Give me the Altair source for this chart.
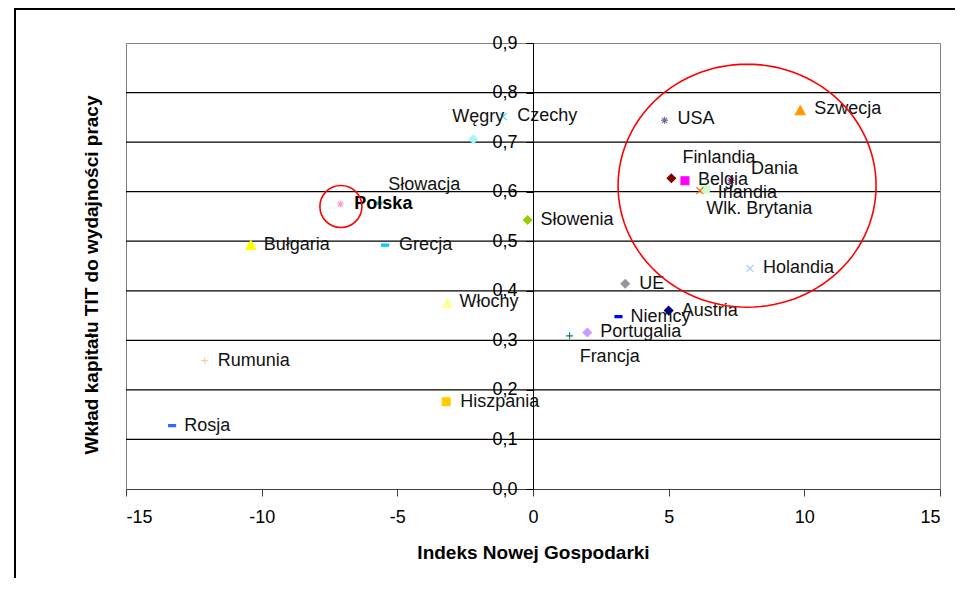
import math
import altair as alt
import pandas as pd

# ---------------- data ----------------
countries = ["Polska", "Słowacja", "Węgry", "Czechy", "Słowenia", "Bułgaria",
             "Grecja", "Włochy", "Rumunia", "Rosja", "Hiszpania", "UE",
             "Niemcy", "Austria", "Portugalia", "Francja", "USA", "Szwecja",
             "Finlandia", "Belgia", "Dania", "Irlandia", "Wlk. Brytania", "Holandia"]
nge_index = [-7.1, -5.7, -2.2, -1.1, -0.2, -10.4,
             -5.45, -3.15, -12.1, -13.3, -3.2, 3.4,
             3.15, 5.0, 2.0, 1.35, 4.85, 9.85,
             5.1, 5.6, 7.3, 6.15, 6.35, 8.0]
ict_share = [0.575, 0.577, 0.706, 0.752, 0.543, 0.492,
             0.492, 0.375, 0.259, 0.128, 0.176, 0.414,
             0.348, 0.360, 0.316, 0.309, 0.744, 0.764,
             0.627, 0.622, 0.623, 0.602, 0.605, 0.445]

x_ticks = [-15, -10, -5, 0, 5, 10, 15]
y_ticks = [0.0, 0.1, 0.2, 0.3, 0.4, 0.5, 0.6, 0.7, 0.8, 0.9]
grid_levels = [0.1, 0.2, 0.3, 0.4, 0.5, 0.6, 0.7, 0.8]

# highlighted groups (annotation circles): centre in data units
highlight_x = [-7.08, 7.89]
highlight_y = [0.570, 0.612]
highlight_id = ["pl", "core"]

# ---------------- styles ----------------
SHAPES = {
    "diamond": "M0,-0.85L0.85,0L0,0.85L-0.85,0Z",
    "square": "M-0.8,-0.8L0.8,-0.8L0.8,0.8L-0.8,0.8Z",
    "triangle": "M0,-0.95L1.0,0.85L-1.0,0.85Z",
    "asterisk": "M-0.7,0L0.7,0M0,-0.7L0,0.7M-0.5,-0.5L0.5,0.5M-0.5,0.5L0.5,-0.5",
    "x": "M-0.7,-0.7L0.7,0.7M-0.7,0.7L0.7,-0.7",
    "plus": "M-0.7,0L0.7,0M0,-0.7L0,0.7",
    "dash": "M-0.7,-0.22L0.7,-0.22L0.7,0.22L-0.7,0.22Z",
}
marker_style = {
    "Polska": ("asterisk", "#FF99CC"),
    "Słowacja": ("dash", "#33CCCC"),
    "Węgry": ("diamond", "#A8F4FA"),
    "Czechy": ("x", "#33E0F0"),
    "Słowenia": ("diamond", "#99CC00"),
    "Bułgaria": ("triangle", "#FFFF00"),
    "Grecja": ("dash", "#00CCFF"),
    "Włochy": ("triangle", "#FFFF99"),
    "Rumunia": ("plus", "#FFCC99"),
    "Rosja": ("dash", "#3366FF"),
    "Hiszpania": ("square", "#FFCC00"),
    "UE": ("diamond", "#969696"),
    "Niemcy": ("dash", "#0000FF"),
    "Austria": ("diamond", "#000080"),
    "Portugalia": ("diamond", "#CC99FF"),
    "Francja": ("plus", "#008080"),
    "USA": ("asterisk", "#666699"),
    "Szwecja": ("triangle", "#FF9900"),
    "Finlandia": ("diamond", "#800000"),
    "Belgia": ("square", "#FF00FF"),
    "Dania": ("asterisk", "#800080"),
    "Irlandia": ("x", "#FF6600"),
    "Wlk. Brytania": ("square", "#CCFFCC"),
    "Holandia": ("x", "#99CCFF"),
}
# label offsets in pixels (left edge of text, vertical centre)
label_offset = {
    "Polska": (14, 0), "Słowacja": (10, -18), "Węgry": (-21, -22),
    "Czechy": (14, 0), "Słowenia": (13, 0), "Bułgaria": (13, 0),
    "Grecja": (14, 0), "Włochy": (12, -1), "Rumunia": (13, 0),
    "Rosja": (12, 0), "Hiszpania": (14, 0), "UE": (14, 0),
    "Niemcy": (12, 0), "Austria": (13, 0), "Portugalia": (13, 0),
    "Francja": (10, 21), "USA": (13, -1), "Szwecja": (14, -1),
    "Finlandia": (11, -20), "Belgia": (13, -1), "Dania": (20, -11),
    "Irlandia": (18, 2), "Wlk. Brytania": (1, 20), "Holandia": (13, 0),
}

FONT = "Liberation Sans"
W, H = 814, 446
XMIN, XMAX = x_ticks[0], x_ticks[-1]
YMIN, YMAX = y_ticks[0], y_ticks[-1]

df = pd.DataFrame({"country": countries, "x": nge_index, "y": ict_share})
df["dx"] = [label_offset[c][0] for c in countries]
df["dy"] = [label_offset[c][1] for c in countries]
df["shape"] = [marker_style[c][0] for c in countries]

grid_df = pd.DataFrame({"y": grid_levels, "x": [XMIN] * len(grid_levels),
                        "x2": [XMAX] * len(grid_levels)})
hl_df = pd.DataFrame({"id": highlight_id, "x": highlight_x, "y": highlight_y})
one = pd.DataFrame({"k": [0]})

xscale = alt.Scale(domain=[XMIN, XMAX], nice=False, zero=False)
yscale = alt.Scale(domain=[YMIN, YMAX], nice=False, zero=False)

xaxis = alt.Axis(values=x_ticks, title="Indeks Nowej Gospodarki", grid=False,
                 labelExpr="'' + datum.value", labelFont=FONT, labelFontSize=18,
                 labelColor="#000", labelPadding=12, tickSize=7, tickColor="#404040",
                 domainColor="#404040", titleFont=FONT, titleFontSize=19,
                 titleFontWeight="bold", titleColor="#000", titlePadding=17, zindex=0)
yaxis = alt.Axis(values=y_ticks, title=None, grid=False, offset=-W / 2,
                 labelExpr="replace(format(datum.value, '.1f'), '.', ',')",
                 labelFont=FONT, labelFontSize=18, labelColor="#000", labelPadding=9,
                 tickSize=7, tickColor="#000", domainColor="#000", zindex=0)

X = alt.X("x:Q", scale=xscale, axis=xaxis)
Y = alt.Y("y:Q", scale=yscale, axis=yaxis)
LX = alt.X("lx:Q", scale=xscale, axis=xaxis)
LY = alt.Y("ly:Q", scale=yscale, axis=yaxis)

frame = alt.Chart(one).mark_rect(fill=None, stroke="#000", strokeWidth=2).encode(
    x=alt.value(-111), x2=alt.value(1200), y=alt.value(-34), y2=alt.value(1000))

grid = alt.Chart(grid_df).mark_rule(color="#000", strokeWidth=1.2).encode(
    x=X, x2="x2:Q", y=Y)

point_layers = []
for kind, path in SHAPES.items():
    sub = df[df["shape"] == kind]
    if sub.empty:
        continue
    point_layers.append(
        alt.Chart(sub).mark_point(filled=True, strokeWidth=1.1, opacity=1, shape=path,
                                  size=100).encode(
            x=X, y=Y,
            color=alt.Color("country:N", scale=None, legend=None)
            if False else alt.Color("country:N", legend=None, scale=alt.Scale(
                domain=countries, range=[marker_style[c][1] for c in countries])),
            stroke=alt.Stroke("country:N", legend=None, scale=alt.Scale(
                domain=countries, range=[marker_style[c][1] for c in countries])),
        )
    )

pos_calc = dict(
    lx=f"datum.x + datum.dx * {(XMAX - XMIN) / W}",
    ly=f"datum.y - datum.dy * {(YMAX - YMIN) / H}",
)

labels = alt.Chart(df).transform_filter("datum.country != 'Polska'").transform_calculate(
    **pos_calc).mark_text(align="left", baseline="middle", font=FONT, fontSize=18,
                          color="#111").encode(x=LX, y=LY, text="country:N")

label_pl = alt.Chart(df).transform_filter("datum.country == 'Polska'").transform_calculate(
    **pos_calc).mark_text(align="left", baseline="middle", font=FONT, fontSize=18,
                          fontWeight="bold", color="#000").encode(
    x=LX, y=LY, text="country:N")

ell_pts = [2 * math.pi * i / 120 for i in range(120)]
ELLIPSE = "M" + "L".join(f"{math.cos(t):.4f},{0.942 * math.sin(t):.4f}" for t in ell_pts) + "Z"

circle_pl = alt.Chart(hl_df).transform_filter("datum.id == 'pl'").mark_point(
    filled=False, strokeWidth=1.6, opacity=1, color="#FF0000", shape="circle",
    size=1764).encode(x=X, y=Y)
circle_core = alt.Chart(hl_df).transform_filter("datum.id == 'core'").mark_point(
    filled=False, strokeWidth=1.6, opacity=1, color="#FF0000", shape=ELLIPSE,
    size=66564).encode(x=X, y=Y)

ytitle = alt.Chart(one).mark_text(angle=270, font=FONT, fontSize=19, fontWeight="bold",
                                  color="#000", baseline="middle", align="center").encode(
    x=alt.value(-34), y=alt.value(232),
    text=alt.value("Wkład kapitału TIT do wydajności pracy"))

chart = alt.layer(frame, grid, *point_layers, labels, label_pl, circle_pl, circle_core,
                  ytitle).properties(
    width=W, height=H,
    autosize=alt.AutoSizeParams(type="none"),
    padding={"left": 118, "top": 35, "right": 15, "bottom": 89},
    background="white",
).configure_view(stroke="#808080", strokeWidth=1)

chart.save("out.html", embed_options={"renderer": "svg", "actions": False})
